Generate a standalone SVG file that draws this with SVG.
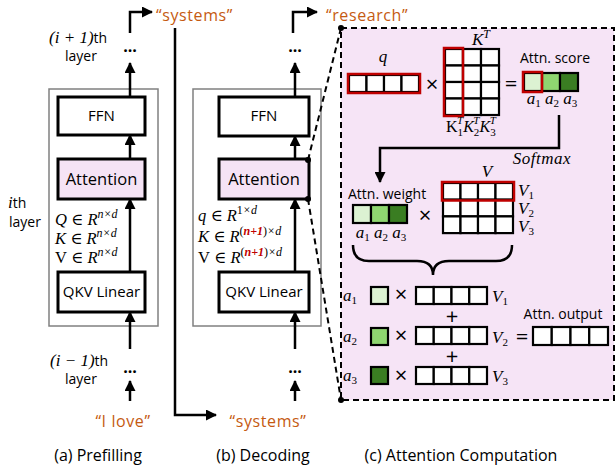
<svg xmlns="http://www.w3.org/2000/svg" width="616" height="467" viewBox="0 0 616 467">
<defs>
<marker id="ah" markerUnits="userSpaceOnUse" markerWidth="11" markerHeight="11" refX="10" refY="5.5" orient="auto"><path d="M0,0 L11,5.5 L0,11 z" fill="#000"/></marker>
<style>
.s{font-family:"Open Sans","Liberation Sans",sans-serif;fill:#000}
.m{font-family:"Liberation Serif","DejaVu Serif",serif;font-style:italic;fill:#000}
.o{font-family:"Open Sans","Liberation Sans",sans-serif;fill:#c55a11;font-size:16px}
.box{fill:#fff;stroke:#000;stroke-width:3}
.att{fill:#f5e3f5;stroke:#000;stroke-width:3}
.outer{fill:none;stroke:#808080;stroke-width:1.5}
.ln{fill:none;stroke:#000;stroke-width:2.5}
.arr{fill:none;stroke:#000;stroke-width:2.5;marker-end:url(#ah)}
.cell{fill:#fff;stroke:#000;stroke-width:2.2}
.red{fill:none;stroke:#c00000;stroke-width:2.5}
.dash{fill:none;stroke:#000;stroke-width:2;stroke-dasharray:6 4}
.g1{fill:#dcf2d2;stroke:#000;stroke-width:2.2}
.g2{fill:#8fd670;stroke:#000;stroke-width:2.2}
.g3{fill:#3a7d22;stroke:#000;stroke-width:2.2}
.dots{font-family:"Open Sans","Liberation Sans",sans-serif;font-weight:bold;font-size:16px;text-anchor:middle}
.sub{font-size:11px;font-style:normal}
</style>
</defs>

<!-- Panel (c) background -->
<g id="panel-c">
<rect x="341" y="28" width="273" height="372" fill="#f6e4f6" stroke="#000" stroke-width="2" stroke-dasharray="6 4"/>
</g>

<!-- Panel (a) -->
<g id="layer-a">
<rect class="outer" x="49" y="89" width="109" height="237"/>
<text class="m" x="49" y="43" font-size="17" font-style="normal">(<tspan font-style="italic">i</tspan> + 1)<tspan class="s" font-style="normal" font-size="14">th</tspan></text>
<text class="s" x="81" y="61" font-size="14" text-anchor="middle">layer</text>
<text class="m" x="8" y="208" font-size="17">i<tspan class="s" font-style="normal" font-size="14">th</tspan></text>
<text class="s" x="25" y="227" font-size="14" text-anchor="middle">layer</text>
<text class="m" x="50" y="366" font-size="17" font-style="normal">(<tspan font-style="italic">i</tspan> − 1)<tspan class="s" font-style="normal" font-size="14">th</tspan></text>
<text class="s" x="81" y="384" font-size="14" text-anchor="middle">layer</text>
</g>
<g id="ffn-a"><rect class="box" x="58" y="97" width="87" height="38"/><text class="s" x="101.5" y="121" font-size="15" text-anchor="middle">FFN</text></g>
<g id="attn-a"><rect class="att" x="58" y="159" width="87" height="40"/><text class="s" x="101.5" y="185" font-size="16.5" text-anchor="middle">Attention</text></g>
<g id="qkv-a"><rect class="box" x="58" y="272" width="87" height="40"/><text class="s" x="101.5" y="297" font-size="15" text-anchor="middle">QKV Linear</text></g>
<g id="qkv-text-a">
<text class="m" x="55" y="225" font-size="16.5">Q <tspan font-style="normal">∈</tspan> R<tspan dy="-7" font-size="12">n×d</tspan></text>
<text class="m" x="55" y="244" font-size="16.5">K <tspan font-style="normal">∈</tspan> R<tspan dy="-7" font-size="12">n×d</tspan></text>
<text class="m" x="55" y="263" font-size="16.5"><tspan font-style="normal">V</tspan> <tspan font-style="normal">∈</tspan> R<tspan dy="-7" font-size="12">n×d</tspan></text>
</g>
<g id="dots-a"><text class="dots" x="130" y="52">...</text><text class="dots" x="130" y="373">...</text></g>
<g id="tok-a"><text class="o" x="156" y="21" letter-spacing="0.6">“systems”</text><text class="o" x="123" y="427" text-anchor="middle" letter-spacing="0.6">“I love”</text></g>

<!-- Panel (b) -->
<g id="layer-b"><rect class="outer" x="193" y="89" width="128" height="237"/></g>
<g id="ffn-b"><rect class="box" x="219" y="97" width="90" height="39"/><text class="s" x="264" y="121" font-size="15" text-anchor="middle">FFN</text></g>
<g id="attn-b"><rect class="att" x="219" y="159" width="90" height="40"/><text class="s" x="264" y="185" font-size="16.5" text-anchor="middle">Attention</text></g>
<g id="qkv-b"><rect class="box" x="219" y="272" width="90" height="40"/><text class="s" x="264" y="297" font-size="15" text-anchor="middle">QKV Linear</text></g>
<g id="qkv-text-b">
<text class="m" x="198" y="221" font-size="16.5">q <tspan font-style="normal">∈</tspan> R<tspan dy="-7" font-size="12"><tspan font-style="normal">1</tspan>×d</tspan></text>
<text class="m" x="198" y="242" font-size="16.5">K <tspan font-style="normal">∈</tspan> R<tspan dy="-7" font-size="12"><tspan font-style="normal">(</tspan><tspan fill="#c00000" font-weight="bold">n+1</tspan><tspan font-style="normal">)</tspan>×d</tspan></text>
<text class="m" x="198" y="263" font-size="16.5"><tspan font-style="normal">V</tspan> <tspan font-style="normal">∈</tspan> R<tspan dy="-7" font-size="12"><tspan font-style="normal">(</tspan><tspan fill="#c00000" font-weight="bold">n+1</tspan><tspan font-style="normal">)</tspan>×d</tspan></text>
</g>
<g id="dots-b"><text class="dots" x="295" y="52">...</text><text class="dots" x="295" y="373">...</text></g>
<g id="tok-b"><text class="o" x="326" y="21" letter-spacing="0.6">“research”</text><text class="o" x="268" y="427" text-anchor="middle" letter-spacing="0.6">“systems”</text></g>

<!-- Connectors -->
<g id="connectors">
<path class="arr" d="M130 272 V199"/>
<path class="arr" d="M130 159 V135"/>
<path class="arr" d="M130 97 V63"/>
<path class="arr" d="M130 33 V12 H152"/>
<path class="arr" d="M130 349 V312"/>
<path class="arr" d="M130 401 V381"/>
<path class="arr" d="M295 272 V199"/>
<path class="arr" d="M295 159 V136"/>
<path class="arr" d="M295 97 V63"/>
<path class="arr" d="M293 33 V12 H317"/>
<path class="arr" d="M295 349 V312"/>
<path class="arr" d="M295 401 V381"/>
<path class="arr" d="M175 28 V415 H216"/>
<path class="dash" d="M308 160 L341 28"/>
<path class="dash" d="M308 199 L341 400"/>
<circle cx="308" cy="160" r="3" fill="#000"/>
<circle cx="308" cy="199" r="3" fill="#000"/>
<circle cx="341" cy="28" r="3" fill="#000"/>
<circle cx="341" cy="400" r="3" fill="#000"/>
<path class="arr" d="M559 115 V148 H380 V182"/>
</g>

<!-- Panel (c) contents -->
<g id="q-vec">
<text class="m" x="383" y="62" font-size="17" text-anchor="middle">q</text>
<rect class="cell" x="349" y="75" width="17.5" height="17"/><rect class="cell" x="366.5" y="75" width="17.5" height="17"/><rect class="cell" x="384" y="75" width="17.5" height="17"/><rect class="cell" x="401.5" y="75" width="17.5" height="17"/>
<rect class="red" x="348" y="74" width="72" height="19"/>
</g>
<text class="s" x="432" y="92" font-size="22" text-anchor="middle">×</text>
<g id="kt-mat">
<text class="m" x="481" y="45" font-size="17" text-anchor="middle">K<tspan dy="-7" font-size="12">T</tspan></text>
<rect class="cell" x="445" y="49" width="18" height="16.5"/><rect class="cell" x="463" y="49" width="18" height="16.5"/><rect class="cell" x="481" y="49" width="18" height="16.5"/>
<rect class="cell" x="445" y="65.5" width="18" height="16.5"/><rect class="cell" x="463" y="65.5" width="18" height="16.5"/><rect class="cell" x="481" y="65.5" width="18" height="16.5"/>
<rect class="cell" x="445" y="82" width="18" height="16.5"/><rect class="cell" x="463" y="82" width="18" height="16.5"/><rect class="cell" x="481" y="82" width="18" height="16.5"/>
<rect class="cell" x="445" y="98.5" width="18" height="16.5"/><rect class="cell" x="463" y="98.5" width="18" height="16.5"/><rect class="cell" x="481" y="98.5" width="18" height="16.5"/>
<rect class="red" x="444" y="48" width="19" height="68"/>
<text class="m" x="446" y="132" font-size="16"><tspan font-style="normal">K</tspan><tspan dy="4" font-size="11" font-style="normal">1</tspan><tspan dx="-6" dy="-12" font-size="11">T</tspan><tspan dy="8">K</tspan><tspan dy="4" font-size="11" font-style="normal">2</tspan><tspan dx="-6" dy="-12" font-size="11">T</tspan><tspan dy="8">K</tspan><tspan dy="4" font-size="11" font-style="normal">3</tspan><tspan dx="-6" dy="-12" font-size="11">T</tspan></text>
</g>
<text class="s" x="511" y="91" font-size="22" text-anchor="middle">=</text>
<g id="score">
<text class="s" x="555" y="63" font-size="14" text-anchor="middle">Attn. score</text>
<rect class="g1" x="524" y="73" width="18" height="18"/><rect class="g2" x="542" y="73" width="18" height="18"/><rect class="g3" x="560" y="73" width="18" height="18"/>
<rect class="red" x="523" y="72" width="19" height="20"/>
<text class="m" x="552" y="104" font-size="17" text-anchor="middle">a<tspan class="sub" dy="3">1</tspan><tspan dy="-3"> a</tspan><tspan class="sub" dy="3">2</tspan><tspan dy="-3"> a</tspan><tspan class="sub" dy="3">3</tspan></text>
</g>
<text class="m" x="542" y="164" font-size="17" text-anchor="middle" letter-spacing="0.5">Softmax</text>
<g id="weight">
<text class="s" x="348" y="199" font-size="14">Attn. weight</text>
<rect class="g1" x="353" y="205" width="18" height="18"/><rect class="g2" x="371" y="205" width="18" height="18"/><rect class="g3" x="389" y="205" width="18" height="18"/>
<text class="m" x="381" y="238" font-size="17" text-anchor="middle">a<tspan class="sub" dy="3">1</tspan><tspan dy="-3"> a</tspan><tspan class="sub" dy="3">2</tspan><tspan dy="-3"> a</tspan><tspan class="sub" dy="3">3</tspan></text>
</g>
<text class="s" x="425" y="223" font-size="22" text-anchor="middle">×</text>
<g id="v-mat">
<text class="m" x="487" y="177" font-size="17" text-anchor="middle">V</text>
<rect class="cell" x="443" y="183" width="17.5" height="16.7"/><rect class="cell" x="460.5" y="183" width="17.5" height="16.7"/><rect class="cell" x="478" y="183" width="17.5" height="16.7"/><rect class="cell" x="495.5" y="183" width="17.5" height="16.7"/>
<rect class="cell" x="443" y="199.7" width="17.5" height="16.7"/><rect class="cell" x="460.5" y="199.7" width="17.5" height="16.7"/><rect class="cell" x="478" y="199.7" width="17.5" height="16.7"/><rect class="cell" x="495.5" y="199.7" width="17.5" height="16.7"/>
<rect class="cell" x="443" y="216.4" width="17.5" height="16.7"/><rect class="cell" x="460.5" y="216.4" width="17.5" height="16.7"/><rect class="cell" x="478" y="216.4" width="17.5" height="16.7"/><rect class="cell" x="495.5" y="216.4" width="17.5" height="16.7"/>
<rect class="red" x="442" y="182" width="72" height="18.5"/>
<text class="m" x="518" y="196" font-size="17">V<tspan class="sub" dy="3">1</tspan></text>
<text class="m" x="518" y="214" font-size="17">V<tspan class="sub" dy="3">2</tspan></text>
<text class="m" x="518" y="232" font-size="17">V<tspan class="sub" dy="3">3</tspan></text>
</g>
<path class="ln" d="M353 245 Q353 261 369 261 H417 Q433 261 433 275 Q433 261 449 261 H496 Q512 261 512 245"/>
<g id="rows">
<text class="m" x="343" y="301" font-size="17">a<tspan class="sub" dy="3">1</tspan></text>
<rect class="g1" x="371" y="287" width="17" height="17"/>
<text class="s" x="401" y="302" font-size="22" text-anchor="middle">×</text>
<rect class="cell" x="416" y="287" width="17.75" height="17"/><rect class="cell" x="433.75" y="287" width="17.75" height="17"/><rect class="cell" x="451.5" y="287" width="17.75" height="17"/><rect class="cell" x="469.25" y="287" width="17.75" height="17"/>
<text class="m" x="492" y="302" font-size="17">V<tspan class="sub" dy="3">1</tspan></text>
<text class="s" x="452" y="324" font-size="22" text-anchor="middle">+</text>
<text class="m" x="343" y="342" font-size="17">a<tspan class="sub" dy="3">2</tspan></text>
<rect class="g2" x="371" y="328" width="17" height="17"/>
<text class="s" x="401" y="343" font-size="22" text-anchor="middle">×</text>
<rect class="cell" x="416" y="327" width="17.75" height="17"/><rect class="cell" x="433.75" y="327" width="17.75" height="17"/><rect class="cell" x="451.5" y="327" width="17.75" height="17"/><rect class="cell" x="469.25" y="327" width="17.75" height="17"/>
<text class="m" x="492" y="343" font-size="17">V<tspan class="sub" dy="3">2</tspan></text>
<text class="s" x="522" y="344" font-size="22" text-anchor="middle">=</text>
<text class="s" x="452" y="364" font-size="22" text-anchor="middle">+</text>
<text class="m" x="343" y="381" font-size="17">a<tspan class="sub" dy="3">3</tspan></text>
<rect class="g3" x="371" y="367" width="17" height="17"/>
<text class="s" x="401" y="383" font-size="22" text-anchor="middle">×</text>
<rect class="cell" x="416" y="367" width="17.75" height="17"/><rect class="cell" x="433.75" y="367" width="17.75" height="17"/><rect class="cell" x="451.5" y="367" width="17.75" height="17"/><rect class="cell" x="469.25" y="367" width="17.75" height="17"/>
<text class="m" x="492" y="382" font-size="17">V<tspan class="sub" dy="3">3</tspan></text>
</g>
<g id="output">
<text class="s" x="563" y="319" font-size="14" text-anchor="middle">Attn. output</text>
<rect class="cell" x="533" y="327" width="18.75" height="18"/><rect class="cell" x="551.75" y="327" width="18.75" height="18"/><rect class="cell" x="570.5" y="327" width="18.75" height="18"/><rect class="cell" x="589.25" y="327" width="18.75" height="18"/>
</g>

<!-- Captions -->
<g id="captions">
<text class="s" x="98" y="461" font-size="16" text-anchor="middle">(a) Prefilling</text>
<text class="s" x="263" y="461" font-size="16" text-anchor="middle">(b) Decoding</text>
<text class="s" x="461" y="461" font-size="16" text-anchor="middle">(c) Attention Computation</text>
</g>
</svg>
